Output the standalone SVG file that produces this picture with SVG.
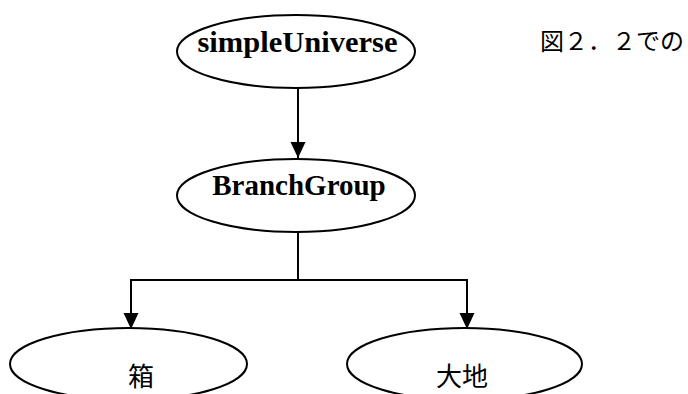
<svg xmlns="http://www.w3.org/2000/svg" width="688" height="394" viewBox="0 0 688 394">
  <style>
    .node { fill: #ffffff; stroke: #000000; stroke-width: 2; }
    .lat { font-family: "Liberation Serif", "Times New Roman", serif; font-weight: bold; font-size: 29px; fill: #000000; }
    .jp { font-family: "Noto Sans CJK JP", "Noto Sans", sans-serif; font-size: 26px; fill: #000000; }
    .edge { fill: none; stroke: #000000; stroke-width: 2; }
  </style>
  <defs>
    <marker id="arrow" markerUnits="userSpaceOnUse" markerWidth="16" markerHeight="16" viewBox="0 0 16 16" refX="16" refY="8" orient="auto">
      <path d="M0,0.5 L16,8 L0,15.5 Z" fill="#000000"/>
    </marker>
  </defs>
  <rect width="688" height="394" fill="#ffffff"/>
  <g id="connectors">
    <path class="edge" d="M298,88 L298,158" marker-end="url(#arrow)"/>
    <path class="edge" d="M298,232 L298,280 L131,280 L131,329" marker-end="url(#arrow)"/>
    <path class="edge" d="M298,280 L467,280 L467,329" marker-end="url(#arrow)"/>
  </g>
  <g id="node-simpleUniverse">
    <ellipse class="node" cx="296" cy="51.5" rx="119" ry="36.5"/>
    <text class="lat" x="197.5" y="51.5" textLength="200" lengthAdjust="spacingAndGlyphs">simpleUniverse</text>
  </g>
  <g id="node-BranchGroup">
    <ellipse class="node" cx="296" cy="195.5" rx="119" ry="36.5"/>
    <text class="lat" x="299" y="194.5" text-anchor="middle">BranchGroup</text>
  </g>
  <g id="node-box">
    <ellipse class="node" cx="128.5" cy="364" rx="118.5" ry="36"/>
    <text class="jp" x="141" y="386" text-anchor="middle">箱</text>
  </g>
  <g id="node-ground">
    <ellipse class="node" cx="464.5" cy="364" rx="117.5" ry="36"/>
    <text class="jp" x="462" y="386" text-anchor="middle">大地</text>
  </g>
  <text id="caption" class="jp" x="540" y="50" style="font-size:24px">図２．２での</text>
</svg>
